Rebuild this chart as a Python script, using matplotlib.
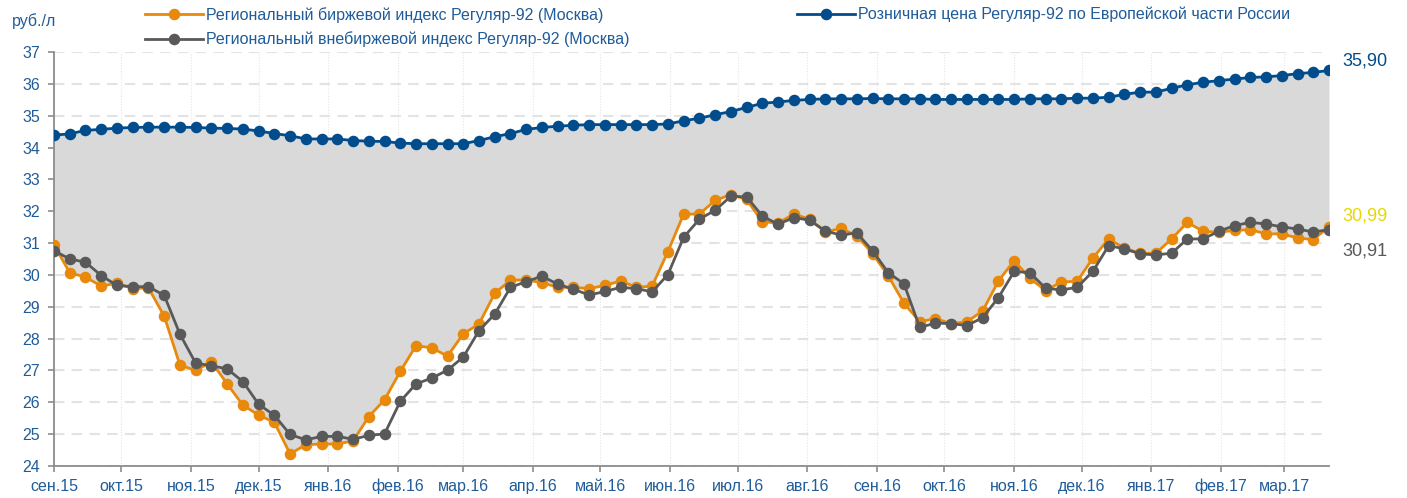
import numpy as np
import pandas as pd
import matplotlib
matplotlib.use('Agg')
import matplotlib.pyplot as plt

plt.rcParams['font.family'] = ['Liberation Sans', 'DejaVu Sans']

# weekly observations, sep 2015 - mar 2017
dates = pd.date_range('2015-09-01', periods=82, freq='7D')

# retail price, Regular-92, European part of Russia
retail = [34.39, 34.43, 34.54, 34.57, 34.61, 34.63, 34.64, 34.64, 34.64, 34.63,
          34.61, 34.60, 34.58, 34.52, 34.44, 34.37, 34.27, 34.27, 34.27, 34.22,
          34.20, 34.19, 34.14, 34.12, 34.12, 34.12, 34.12, 34.22, 34.34, 34.44,
          34.57, 34.63, 34.67, 34.70, 34.72, 34.72, 34.72, 34.72, 34.72, 34.74,
          34.84, 34.92, 35.03, 35.13, 35.26, 35.39, 35.43, 35.48, 35.51, 35.53,
          35.53, 35.53, 35.54, 35.53, 35.53, 35.53, 35.51, 35.51, 35.51, 35.51,
          35.51, 35.51, 35.53, 35.53, 35.53, 35.55, 35.55, 35.58, 35.67, 35.74,
          35.74, 35.86, 35.97, 36.05, 36.10, 36.15, 36.20, 36.22, 36.26, 36.32,
          36.36, 36.42]

# exchange index, Moscow
exchange = [30.94, 30.07, 29.93, 29.65, 29.74, 29.57, 29.59, 28.71, 27.17, 27.00,
            27.27, 26.58, 25.91, 25.60, 25.37, 24.38, 24.67, 24.69, 24.69, 24.79,
            25.55, 26.08, 26.97, 27.78, 27.71, 27.45, 28.15, 28.46, 29.42, 29.84,
            29.84, 29.76, 29.61, 29.61, 29.57, 29.67, 29.81, 29.61, 29.65, 30.73,
            31.91, 31.91, 32.34, 32.52, 32.37, 31.67, 31.63, 31.91, 31.75, 31.35,
            31.46, 31.23, 30.67, 29.97, 29.11, 28.53, 28.63, 28.47, 28.53, 28.87,
            29.81, 30.45, 29.89, 29.51, 29.78, 29.80, 30.53, 31.13, 30.84, 30.68,
            30.68, 31.13, 31.65, 31.37, 31.34, 31.40, 31.42, 31.29, 31.29, 31.16,
            31.11, 31.51]

# off-exchange index, Moscow
otc = [30.76, 30.50, 30.40, 29.98, 29.67, 29.63, 29.63, 29.36, 28.14, 27.23,
       27.15, 27.05, 26.65, 25.94, 25.59, 24.99, 24.82, 24.93, 24.93, 24.84,
       24.96, 25.01, 26.03, 26.58, 26.76, 27.01, 27.42, 28.25, 28.77, 29.61,
       29.79, 29.96, 29.71, 29.55, 29.37, 29.48, 29.61, 29.57, 29.47, 30.01,
       31.18, 31.75, 32.03, 32.47, 32.45, 31.85, 31.59, 31.80, 31.72, 31.38,
       31.25, 31.32, 30.76, 30.07, 29.72, 28.35, 28.49, 28.47, 28.41, 28.66,
       29.29, 30.11, 30.07, 29.58, 29.53, 29.61, 30.11, 30.92, 30.82, 30.66,
       30.63, 30.68, 31.13, 31.13, 31.37, 31.55, 31.65, 31.60, 31.51, 31.44,
       31.35, 31.42]

month_ticks = pd.date_range('2015-09-01', '2017-03-01', freq='MS')
month_labels = ['сен.15', 'окт.15', 'ноя.15', 'дек.15', 'янв.16', 'фев.16',
                'мар.16', 'апр.16', 'май.16', 'июн.16', 'июл.16', 'авг.16',
                'сен.16', 'окт.16', 'ноя.16', 'дек.16', 'янв.17', 'фев.17',
                'мар.17']

last_labels = ['35,90', '30,99', '30,91']

c_blue = '#004c8c'
c_orange = '#e8890c'
c_gray = '#595959'
c_text = '#1f5c99'

fig = plt.figure(figsize=(14.07, 4.98), dpi=100)
ax = fig.add_axes([54 / 1407, 32 / 498, 1275 / 1407, 414 / 498])

ax.fill_between(dates, exchange, retail, color='#d9d9d9', lw=0, zorder=1)

l1, = ax.plot(dates, exchange, color=c_orange, lw=2, marker='o', ms=7.3, zorder=3,
              label='Региональный биржевой индекс Регуляр-92 (Москва)')
l2, = ax.plot(dates, otc, color=c_gray, lw=2, marker='o', ms=7.3, zorder=4,
              label='Региональный внебиржевой индекс Регуляр-92 (Москва)')
l3, = ax.plot(dates, retail, color=c_blue, lw=2, marker='o', ms=7.3, zorder=4,
              label='Розничная цена Регуляр-92 по Европейской части России')

ax.set_xlim(dates[0], dates[-1])
ax.set_ylim(24, 37)
ax.set_yticks(np.arange(24, 38, 1))
ax.set_xticks(month_ticks)
ax.set_xticklabels(month_labels)

ax.set_axisbelow(True)
ax.yaxis.grid(True, color='#e3e3e3', lw=1.5, ls=(0, (5, 3.5)), zorder=0)
ax.xaxis.grid(True, color='#e6e6e6', lw=0.8, ls=(0, (1, 1.5)), zorder=0)

for s in ['top', 'right']:
    ax.spines[s].set_visible(False)
for s in ['left', 'bottom']:
    ax.spines[s].set_color('#8c8c8c')
    ax.spines[s].set_linewidth(1.3)

ax.tick_params(axis='both', colors='#8c8c8c', labelcolor=c_text, labelsize=11.5,
               length=4, width=1.2)
ax.tick_params(axis='x', pad=5)
ax.tick_params(axis='y', pad=6)

fig.text(12 / 1407, 1 - 21 / 498, 'руб./л', color=c_text, fontsize=11.5,
         va='center', ha='left')

# values at the right end
ends = [retail[-1], exchange[-1], otc[-1]]
offsets = [7, 7.5, -15]
colors = [c_blue, '#e6d800', c_gray]
for txt, v, dy, c in zip(last_labels, ends, offsets, colors):
    ax.annotate(txt, xy=(dates[-1], v), xytext=(9.5, dy), textcoords='offset points',
                color=c, fontsize=13, va='center', ha='left', annotation_clip=False)

fig.legend(handles=[l1, l2], loc='upper left',
           bbox_to_anchor=(145 / 1407, 1 - 7 / 498), frameon=False,
           fontsize=11.5, handlelength=3.6, handletextpad=0.25,
           borderpad=0, borderaxespad=0, labelspacing=0.55)
fig.legend(handles=[l3], loc='upper left',
           bbox_to_anchor=(797 / 1407, 1 - 7 / 498), frameon=False,
           fontsize=11.5, handlelength=3.6, handletextpad=0.25,
           borderpad=0, borderaxespad=0)
for leg in fig.legends:
    for t in leg.get_texts():
        t.set_color(c_text)

fig.savefig('out.png', dpi=100, facecolor='w')
